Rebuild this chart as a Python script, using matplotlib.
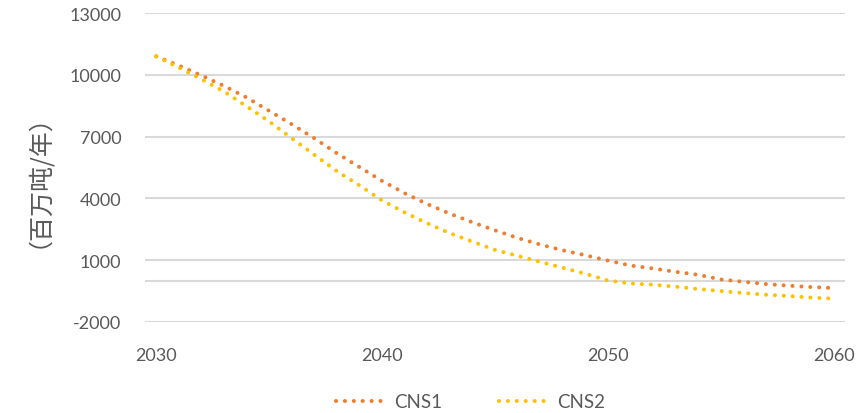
import numpy as np
import matplotlib
matplotlib.use("Agg")
import matplotlib.pyplot as plt
from matplotlib.lines import Line2D

years = np.arange(2030, 2061)

# 年度排放路径（百万吨/年）
cns1 = [10900, 10450, 9970, 9460, 8900, 8250, 7600, 6920, 6190, 5520,
        4850, 4250, 3725, 3260, 2840, 2450, 2080, 1760, 1480, 1240,
        980, 740, 595, 435, 290, 65, -50, -160, -240, -305, -355]
cns2 = [10900, 10350, 9790, 9190, 8470, 7740, 6920, 6120, 5320, 4630,
        3900, 3320, 2790, 2310, 1900, 1500, 1210, 920, 630, 340,
        15, -130, -190, -290, -400, -500, -595, -680, -740, -820, -870]

series_names = ["CNS1", "CNS2"]
series_colors = ["#ED7D31", "#FFC000"]
y_ticks = [-2000, 1000, 4000, 7000, 10000, 13000]
x_ticks = [2030, 2040, 2050, 2060]
y_label = "（百万吨/年）"

text_color = "#595959"
grid_color = "#D9D9D9"
dots = (0, (0.01, 2.2))

plt.rcParams["axes.unicode_minus"] = False

fig = plt.figure(figsize=(8.63, 4.14), dpi=100)
ax = fig.add_axes([0.168, 0.22, 0.811, 0.746])

for vals, name, c in zip([cns1, cns2], series_names, series_colors):
    ax.plot(years, vals, color=c, lw=2.9, linestyle=dots,
            dash_capstyle="round", label=name, zorder=3)

ax.set_xlim(2029.5, 2060.5)
ax.set_ylim(-2000, 13000)
ax.set_yticks(y_ticks)
ax.set_xticks(x_ticks)
ax.grid(axis="y", color=grid_color, lw=1.5)
ax.axhline(0, color=grid_color, lw=1.5, zorder=1)
ax.set_axisbelow(True)
for s in ax.spines.values():
    s.set_visible(False)

ax.tick_params(axis="y", length=0, pad=17, labelsize=13, labelcolor=text_color)
ax.tick_params(axis="x", length=0, pad=18, labelsize=13, labelcolor=text_color)
for lbl in ax.get_xticklabels() + ax.get_yticklabels():
    lbl.set_family("Lato")

ax.set_ylabel(y_label, family=["Noto Sans CJK SC", "DejaVu Sans"],
              fontsize=18, color=text_color, labelpad=22)

handles = [Line2D([], [], color=c, lw=2.9, linestyle=dots, dash_capstyle="round")
           for c in series_colors]
leg = fig.legend(handles, series_names, loc="center", bbox_to_anchor=(0.545, 0.027),
                 ncol=2, frameon=False, handlelength=2.6, columnspacing=3.0,
                 handletextpad=0.5, prop={"family": "Lato", "size": 13.5})
for t in leg.get_texts():
    t.set_color(text_color)

fig.savefig("out.png", dpi=100)
